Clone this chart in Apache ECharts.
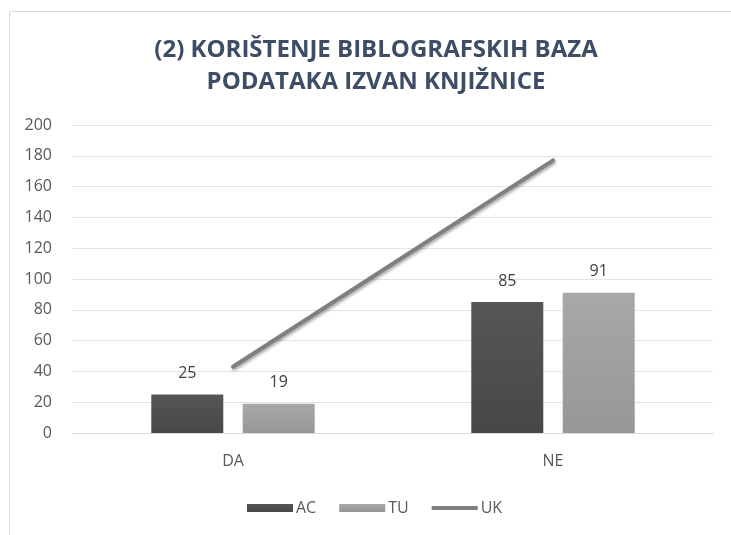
<!DOCTYPE html>
<html><head><meta charset="utf-8">
<script src="https://cdn.jsdelivr.net/npm/echarts@6/dist/echarts.min.js"></script>
<style>html,body{margin:0;padding:0;background:#fff}#c{width:731px;height:535px}</style>
</head><body><div id="c"></div>
<script>
var categories = ['DA', 'NE'];
var acValues = [25, 85];
var tuValues = [19, 91];
var ukValues = [43, 177];
var titleLines = ['(2) KORIŠTENJE BIBLOGRAFSKIH BAZA', 'PODATAKA IZVAN KNJIŽNICE'];

var chart = echarts.init(document.getElementById('c'));
var font = 'Open Sans';
function grad(a, b) {
  return new echarts.graphic.LinearGradient(0, 0, 0, 1, [{offset: 0, color: a}, {offset: 1, color: b}]);
}
chart.setOption({
  backgroundColor: '#fff',
  animation: false,
  graphic: [{
    type: 'rect', left: 7, top: 9, shape: {width: 760, height: 560},
    style: {fill: 'none', stroke: '#d9d9d9', lineWidth: 1}, silent: true
  }, {
    type: 'text', x: 376, y: 34, silent: true,
    style: {text: titleLines.join('\n'), align: 'center', verticalAlign: 'top',
      fontFamily: font, fontWeight: 700, fontSize: 24, lineHeight: 32, fill: '#3d4d66'}
  }],
  legend: {
    bottom: 19, left: 247, padding: 0, itemWidth: 46, itemHeight: 8, itemGap: 23,
    textStyle: {fontFamily: font, fontSize: 16, color: '#595959', padding: [0, 0, 0, -2]},
    data: [{name: 'AC', icon: 'rect'}, {name: 'TU', icon: 'rect'}, {name: 'UK', icon: 'path://M0,0 L46,0 L46,4 L0,4 Z'}]
  },
  grid: {left: 73, right: 18, top: 125, bottom: 102},
  xAxis: {
    type: 'category', data: categories,
    axisLine: {lineStyle: {color: '#d9d9d9'}}, axisTick: {show: false},
    axisLabel: {fontFamily: font, fontSize: 16, color: '#595959', margin: 20}
  },
  yAxis: {
    type: 'value', min: 0, max: 200, interval: 20,
    axisLine: {show: false}, axisTick: {show: false},
    splitLine: {lineStyle: {color: '#e3e3e3'}},
    axisLabel: {fontFamily: font, fontSize: 16, color: '#595959', margin: 21}
  },
  series: [
    {name: 'AC', type: 'bar', data: acValues, barWidth: 72, barGap: '27%',
     itemStyle: {color: grad('#565656', '#474747')},
     label: {show: true, position: 'top', distance: 13, fontFamily: font, fontSize: 16, color: '#404040'}},
    {name: 'TU', type: 'bar', data: tuValues, barWidth: 72,
     itemStyle: {color: grad('#a8a8a8', '#979797')},
     label: {show: true, position: 'top', distance: 13, fontFamily: font, fontSize: 16, color: '#404040'}},
    {name: 'UK', type: 'line', data: ukValues, symbol: 'none',
     lineStyle: {color: '#7f7f7f', width: 4, cap: 'round', shadowColor: 'rgba(0,0,0,0.35)', shadowBlur: 3, shadowOffsetX: 1, shadowOffsetY: 2},
     itemStyle: {color: '#7f7f7f'}}
  ]
});
</script></body></html>
